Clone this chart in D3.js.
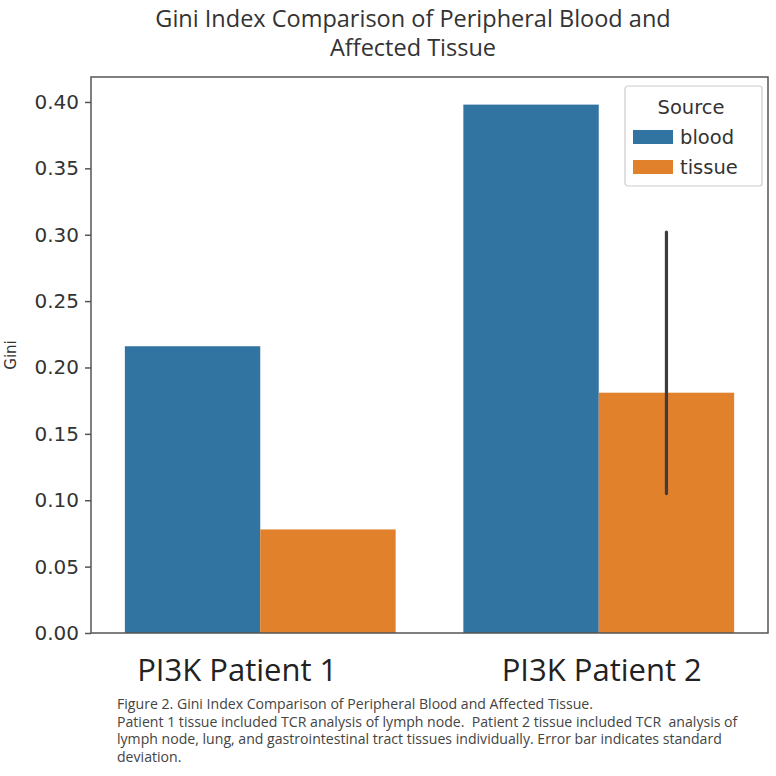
<!DOCTYPE html>
<html><head><meta charset="utf-8">
<script src="https://cdn.jsdelivr.net/npm/d3@7"></script>
<style>body{margin:0;background:#fff;} svg{display:block;} text{white-space:pre;}</style>
</head><body>
<svg id="c" width="776" height="776"></svg>
<script>
const categories = ["PI3K Patient 1", "PI3K Patient 2"];
const sources = ["blood", "tissue"];
const bloodValues = [0.216, 0.398];
const tissueValues = [0.078, 0.181];
const tissueErrLow = [null, 0.105];
const tissueErrHigh = [null, 0.302];
const yTicks = [0.00, 0.05, 0.10, 0.15, 0.20, 0.25, 0.30, 0.35, 0.40];
const colors = ["#3274a1", "#e1812c"];
const titleLines = ["Gini Index Comparison of Peripheral Blood and", "Affected Tissue"];
const captionLines = [
  "Figure 2. Gini Index Comparison of Peripheral Blood and Affected Tissue.",
  "Patient 1 tissue included TCR analysis of lymph node.  Patient 2 tissue included TCR  analysis of",
  "lymph node, lung, and gastrointestinal tract tissues individually. Error bar indicates standard",
  "deviation."
];

const svg = d3.select("#c");
const L = 91, R = 768, T = 77, B = 633;
const x0 = d3.scaleBand().domain(categories).range([L, R]).paddingInner(0.2).paddingOuter(0.1);
const x1 = d3.scaleBand().domain(sources).range([0, x0.bandwidth()]);
const y = d3.scaleLinear().domain([0, 0.4188]).range([B, T]);

const data = categories.map((c, i) => ({c, vals: [bloodValues[i], tissueValues[i]], lo: tissueErrLow[i], hi: tissueErrHigh[i]}));

const g = svg.append("g");
data.forEach(d => {
  sources.forEach((s, j) => {
    g.append("rect")
      .attr("x", x0(d.c) + x1(s))
      .attr("y", y(d.vals[j]))
      .attr("width", x1.bandwidth())
      .attr("height", y(0) - y(d.vals[j]))
      .attr("fill", colors[j]);
  });
  if (d.lo != null) {
    const cx = x0(d.c) + x1("tissue") + x1.bandwidth() / 2;
    g.append("line").attr("x1", cx).attr("x2", cx)
      .attr("y1", y(d.lo)).attr("y2", y(d.hi))
      .attr("stroke", "#3d3d3d").attr("stroke-width", 3.2).attr("stroke-linecap", "round");
  }
});

// frame
svg.append("rect").attr("x", L).attr("y", T).attr("width", R - L).attr("height", B - T)
  .attr("fill", "none").attr("stroke", "#555").attr("stroke-width", 1.5);

// y axis
const yAxis = d3.axisLeft(y).tickValues(yTicks).tickFormat(d3.format(".2f")).tickSize(6).tickPadding(6);
const ya = svg.append("g").attr("transform", `translate(${L},0)`).call(yAxis);
ya.select(".domain").remove();
ya.selectAll(".tick line").attr("stroke", "#555").attr("stroke-width", 1.5);
ya.selectAll(".tick text").attr("font-family", "DejaVu Sans").attr("font-size", 20).attr("fill", "#333");

svg.append("text").attr("transform", `translate(16,${(T + B) / 2}) rotate(-90)`)
  .attr("text-anchor", "middle").attr("font-family", "DejaVu Sans").attr("font-size", 15).attr("fill", "#333").text("Gini");

// x labels (slightly shifted as in the reference)
const labelShift = [-23, 3];
const xAxis = d3.axisBottom(x0).tickSize(0).tickPadding(26);
const xa = svg.append("g").attr("transform", `translate(0,${B})`).call(xAxis);
xa.select(".domain").remove();
xa.selectAll(".tick text").attr("font-family", "Open Sans").attr("font-size", 31).attr("fill", "#222")
  .attr("dx", (d, i) => labelShift[i]);

// title
svg.append("g").selectAll("text").data(titleLines).join("text")
  .attr("x", 413).attr("y", (d, i) => 27 + i * 29)
  .attr("text-anchor", "middle").attr("font-family", "Open Sans").attr("font-size", 23.5).attr("fill", "#333")
  .text(d => d);

// legend
const lg = svg.append("g").attr("transform", "translate(625,86)");
lg.append("rect").attr("width", 137).attr("height", 100).attr("rx", 3)
  .attr("fill", "#fff").attr("stroke", "#ccc").attr("stroke-width", 1.2);
lg.append("text").attr("x", 66).attr("y", 28).attr("text-anchor", "middle")
  .attr("font-family", "DejaVu Sans").attr("font-size", 19.5).attr("fill", "#333").text("Source");
sources.forEach((s, i) => {
  lg.append("rect").attr("x", 8).attr("y", 44 + i * 30).attr("width", 40).attr("height", 14).attr("fill", colors[i]);
  lg.append("text").attr("x", 55).attr("y", 58 + i * 30)
    .attr("font-family", "DejaVu Sans").attr("font-size", 19.5).attr("fill", "#333").text(s);
});

// caption
svg.append("g").selectAll("text").data(captionLines).join("text")
  .attr("x", 117).attr("y", (d, i) => 709 + i * 17.5)
  .attr("font-family", "Open Sans").attr("font-size", 14.1).attr("fill", "#444")
  .text(d => d);
</script>
</body></html>
